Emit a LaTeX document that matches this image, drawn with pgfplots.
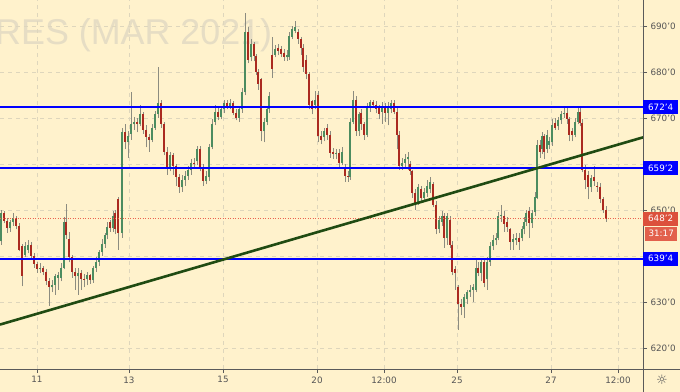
\documentclass[border=0pt]{standalone}
\usepackage{fontspec}
\setmainfont{DejaVu Sans}
\newfontfamily\wmfont{Liberation Sans}
\usepackage{pgfplots}
\usepackage{pgfplotstable}
\pgfplotsset{compat=1.18}
\definecolor{bg}{RGB}{255,242,204}
\definecolor{gridc}{RGB}{222,214,188}
\definecolor{upc}{RGB}{76,140,96}
\definecolor{dnc}{RGB}{170,42,32}
\definecolor{wickc}{RGB}{140,140,128}
\definecolor{bluec}{RGB}{0,0,255}
\definecolor{trendc}{RGB}{32,75,18}
\definecolor{redl}{RGB}{235,100,80}
\definecolor{boxred}{RGB}{220,80,60}
\definecolor{boxred2}{RGB}{226,96,76}
\definecolor{axisc}{RGB}{90,90,90}
\definecolor{txtc}{RGB}{85,85,85}
\definecolor{wmc}{RGB}{230,221,196}
\pgfplotstableread{
x o h l c
1 643.3 650.0 642.6 649.4
4 649.4 649.8 647.2 647.8
7 647.8 648.3 645.2 646.1
10 646.1 648.0 645.4 647.6
13 647.6 649.4 646.7 648.3
16 648.3 648.7 645.9 646.7
19 646.7 647.2 641.1 641.5
22 642.2 642.8 633.5 635.7
25 640.4 643.1 639.8 642.2
28 641.5 643.5 640.7 642.6
31 642.6 643.1 639.4 640.0
34 640.0 640.7 637.6 638.3
37 638.3 638.9 636.5 637.2
40 637.2 638.5 636.5 637.6
43 637.6 638.0 635.9 636.7
46 636.7 637.2 633.7 634.6
49 634.6 635.4 629.3 633.3
52 633.3 634.8 632.2 633.9
55 633.9 636.3 631.7 635.7
58 635.4 636.7 632.8 635.9
61 635.4 638.5 634.6 637.6
64 637.6 648.5 637.2 647.6
66 647.6 651.5 643.7 644.6
69 643.7 645.4 638.7 639.8
72 639.8 640.4 635.4 636.7
75 636.7 637.6 632.8 635.7
78 635.7 637.6 631.7 636.5
81 636.5 637.0 632.8 635.2
84 635.2 636.1 633.3 635.0
87 635.0 636.7 633.7 635.9
90 635.9 636.3 634.1 634.8
93 634.8 638.0 634.3 637.6
96 637.6 639.8 636.7 638.9
99 638.9 641.5 638.0 640.9
102 640.9 643.7 640.2 642.8
105 642.8 645.2 641.9 644.6
107 644.6 647.4 643.7 646.5
110 647.4 648.0 645.4 646.3
113 646.3 649.8 645.4 648.9
115 649.4 650.2 644.8 645.9
118 652.4 653.0 641.5 645.2
122 645.2 668.0 644.1 667.0
125 667.0 668.7 663.3 664.8
128 664.8 667.2 661.5 666.3
131 666.7 675.7 665.4 668.7
134 668.7 670.4 667.6 669.3
137 669.3 670.2 667.0 668.7
140 668.7 673.0 668.3 670.9
143 670.9 671.5 666.7 667.6
146 667.6 668.5 663.7 665.9
149 665.9 666.7 662.8 665.4
152 665.4 668.9 664.8 668.0
155 668.0 671.7 667.6 670.9
158 670.9 681.1 670.2 673.3
161 673.3 674.1 668.0 668.7
164 668.7 669.3 662.0 662.8
167 662.8 663.7 657.8 659.3
170 659.3 662.8 658.5 662.0
173 662.0 662.6 657.8 659.6
176 659.6 660.2 655.4 657.2
179 657.2 658.0 653.9 655.0
182 655.0 657.8 654.1 656.7
185 656.7 658.5 655.4 657.6
188 657.6 659.6 656.7 658.7
191 658.7 661.1 657.8 660.4
194 660.4 661.5 659.1 660.0
197 660.7 664.1 659.8 663.3
200 663.3 664.1 658.5 659.3
203 659.3 660.0 655.4 656.5
206 656.5 658.5 655.7 657.4
209 657.2 664.4 656.5 663.7
212 663.7 669.8 663.3 668.7
215 669.3 673.0 668.5 671.5
218 671.5 672.4 669.6 670.4
221 670.4 672.8 669.8 672.0
224 672.0 674.1 671.1 673.3
227 673.3 674.1 672.0 672.8
230 672.8 674.3 672.0 673.3
233 673.3 673.9 670.7 671.3
236 671.3 672.0 669.6 670.2
239 670.2 672.8 669.3 672.0
242 672.0 676.7 671.3 675.7
245 675.7 693.0 675.0 688.9
248 688.9 689.8 682.0 682.8
251 683.3 687.2 682.4 686.1
254 686.1 686.7 682.4 683.5
256 683.5 684.1 679.4 680.2
258 680.2 680.7 676.3 677.4
261 678.5 678.9 665.0 667.2
264 667.2 670.2 664.8 669.3
267 669.3 672.8 668.5 672.0
269 672.0 675.7 671.3 674.8
272 683.9 687.8 678.9 680.7
275 683.9 685.9 683.3 685.0
278 685.4 686.1 683.7 684.6
281 685.0 685.7 683.3 684.1
284 684.3 685.0 682.6 683.3
287 683.3 684.8 682.6 683.9
289 683.3 688.7 682.8 688.0
292 687.8 690.2 687.2 689.4
295 689.1 691.1 688.5 689.8
298 688.7 689.4 686.3 687.2
301 687.2 687.8 683.9 685.4
303 685.4 686.1 680.2 681.3
306 682.8 683.7 678.5 679.6
309 679.6 680.2 672.0 673.0
312 673.7 674.1 670.9 672.0
315 673.0 675.9 672.0 674.1
318 675.0 675.9 664.8 666.1
321 666.1 667.2 664.4 665.4
324 665.9 668.0 665.0 667.2
327 668.0 668.7 665.4 666.5
330 666.5 667.2 661.5 662.6
333 662.8 663.5 661.1 662.2
336 662.2 663.3 661.1 662.6
339 662.6 663.3 659.3 660.4
342 660.4 663.7 659.8 662.8
345 659.3 660.0 656.3 657.4
348 657.4 658.5 656.3 657.2
350 657.2 670.2 656.7 669.3
353 669.3 675.9 668.7 674.1
356 674.1 674.8 666.3 667.2
359 667.2 671.5 666.3 670.9
361 671.3 672.0 667.6 668.7
364 668.7 669.3 665.4 666.5
367 666.5 673.3 665.9 672.4
370 672.4 674.1 671.5 673.5
373 673.5 674.1 672.2 673.0
376 673.0 673.7 671.1 672.0
379 672.4 673.0 669.8 670.9
382 671.5 673.5 668.9 672.6
385 672.4 673.3 669.3 671.3
388 671.3 673.5 668.5 672.6
391 672.0 674.1 671.3 673.3
394 673.3 674.1 670.9 671.5
397 671.5 672.2 663.3 666.5
399 666.5 667.2 658.9 659.6
402 659.6 661.5 658.9 660.4
405 660.4 662.2 659.3 661.3
408 661.1 662.8 658.9 661.7
410 660.0 660.7 657.8 658.5
412 658.5 658.9 652.8 653.9
415 653.9 654.6 650.2 651.3
418 651.7 655.7 651.1 655.0
421 654.6 655.4 652.0 652.8
424 652.8 654.8 652.0 654.1
427 653.9 656.7 653.0 655.4
430 654.6 657.2 653.7 656.1
433 655.7 656.3 650.7 651.3
436 651.3 652.0 644.8 645.9
439 645.9 648.9 645.0 648.0
442 647.6 649.8 646.7 648.9
444 648.7 649.4 641.9 644.1
447 644.1 649.4 642.6 648.7
450 648.0 648.7 641.9 642.6
452 642.6 643.3 635.9 636.7
455 637.2 638.0 632.8 636.5
458 633.3 633.9 624.1 629.6
461 629.6 630.7 627.2 629.1
464 629.1 631.8 626.7 631.1
467 630.7 632.8 629.6 632.2
470 632.2 633.7 631.3 632.8
473 632.8 634.1 630.0 633.3
476 632.8 639.4 632.2 637.6
478 637.6 638.9 635.7 636.5
481 636.5 639.4 634.6 638.7
484 638.7 639.4 633.3 634.3
487 635.0 639.8 632.8 638.9
490 638.9 643.1 638.0 642.2
493 642.2 644.6 641.5 643.5
496 643.5 645.2 642.4 644.1
498 644.1 649.6 643.5 648.7
501 648.7 651.3 647.6 649.1
504 648.9 649.8 645.4 647.0
507 647.6 648.5 645.4 646.5
510 645.9 646.3 641.5 643.1
513 643.1 644.8 641.5 643.7
516 643.5 645.2 642.4 644.1
519 644.1 645.0 641.5 643.1
522 644.1 646.7 643.3 645.9
524 645.9 648.5 644.8 647.6
526 647.6 650.2 646.7 649.4
529 649.8 650.7 644.1 647.2
532 647.2 650.2 646.3 649.4
535 649.6 654.1 648.9 653.0
537 652.8 665.4 652.4 664.3
540 664.3 665.4 661.5 662.8
542 663.3 667.0 662.2 666.1
544 666.1 666.7 661.1 662.8
547 663.3 667.6 662.6 666.5
549 664.3 665.9 663.3 665.0
552 664.8 669.8 664.1 668.5
555 669.1 670.2 667.6 668.0
558 668.3 670.4 667.6 669.6
561 669.6 671.7 668.9 670.9
564 670.9 672.4 670.2 671.3
567 671.3 672.2 668.9 669.8
569 669.8 670.4 665.0 666.5
572 667.2 668.0 665.0 666.5
575 666.5 670.2 665.9 669.3
578 669.3 672.8 668.7 671.5
580 671.5 672.8 668.3 669.1
582 669.1 669.8 658.3 658.9
585 658.9 659.8 654.6 656.7
588 657.8 658.5 652.4 655.0
591 655.0 657.8 654.1 657.0
594 657.2 659.6 655.4 656.5
597 655.4 656.1 654.1 655.0
600 655.2 655.9 651.7 652.4
603 652.4 653.0 649.4 650.2
606 650.2 650.9 647.6 648.25
}\candles
\begin{document}
\begin{tikzpicture}
\path[use as bounding box] (0,0) rectangle (680bp,392bp);
\fill[bg] (0,0) rectangle (680bp,392bp);
\node[anchor=base west, inner sep=0pt, text=wmc, font=\wmfont\fontsize{36}{36}\selectfont] at (-5bp,347bp) {RES (MAR 2021)};
\begin{axis}[
  at={(0bp,23bp)}, anchor=south west,
  width=643bp, height=369bp, scale only axis,
  xmin=0, xmax=643, ymin=615.54, ymax=695.76,
  axis x line*=bottom, axis y line*=right,
  axis line style={-, draw=axisc, line width=0.8bp},
  tick align=outside, major tick length=4bp,
  tick style={draw=axisc, line width=0.6bp},
  xtick={37,129,223,317,384,457,551,618},
  xticklabels={11,13,15,20,12:00,25,27,12:00},
  ytick={620,630,640,650,660,670,680,690},
  yticklabels={620'0,630'0,,650'0,,670'0,680'0,690'0},
  ticklabel style={font=\fontsize{8.8}{10}\selectfont, text=txtc},
  grid=major,
  major grid style={draw=gridc, dash pattern=on 4bp off 4bp, line width=0.6bp},
  clip=true,
]
% wicks
\addplot[draw=none, no markers, forget plot,
  error bars/.cd, y dir=plus, y explicit, error mark=none,
  error bar style={draw=wickc, line width=0.8bp}]
  table[x=x, y=l, y error plus expr={\thisrow{h}-\thisrow{l}}] {\candles};
% up bodies
\addplot[draw=none, no markers, forget plot,
  error bars/.cd, y dir=plus, y explicit, error mark=none,
  error bar style={draw=upc, line width=2.4bp}]
  table[x=x, y=o, y error plus expr={max(\thisrow{c}-\thisrow{o},0)}] {\candles};
% down bodies
\addplot[draw=none, no markers, forget plot,
  error bars/.cd, y dir=minus, y explicit, error mark=none,
  error bar style={draw=dnc, line width=2.4bp}]
  table[x=x, y=o, y error minus expr={max(\thisrow{o}-\thisrow{c},0)}] {\candles};
% last price line
\addplot[redl, no markers, line width=1bp, dash pattern=on 1bp off 1.5bp] coordinates {(0,648.25) (643,648.25)};
% horizontal levels
\addplot[bluec, no markers, line width=2bp] coordinates {(0,672.5) (643,672.5)};
\addplot[bluec, no markers, line width=2bp] coordinates {(0,659.25) (643,659.25)};
\addplot[bluec, no markers, line width=2bp] coordinates {(0,639.5) (643,639.5)};
% trend line
\addplot[trendc, no markers, line width=2.6bp] coordinates {(0,625.2) (643,665.9)};
\coordinate (L1) at (axis cs:643,672.5);
\coordinate (L2) at (axis cs:643,659.25);
\coordinate (L3) at (axis cs:643,639.5);
\coordinate (L4) at (axis cs:643,648.25);
\end{axis}
\draw[axisc, line width=0.8bp] (643bp,0bp) -- (643bp,392bp);
\draw[axisc, line width=0.8bp] (0bp,23bp) -- (680bp,23bp);
\tikzset{lab/.style={anchor=west, text=white, inner sep=1bp, minimum width=35bp, minimum height=14bp, font=\fontsize{8.8}{10}\selectfont}}
\node[lab, fill=bluec] at (L1) {672'4};
\node[lab, fill=bluec] at (L2) {659'2};
\node[lab, fill=bluec] at (L3) {639'4};
\node[lab, fill=boxred] at (L4) {648'2};
\node[lab, fill=boxred2, minimum width=32bp, xshift=2bp] at ([yshift=-15bp]L4) {31:17};
\node[text=axisc, font=\fontsize{13}{13}\selectfont] at (662bp,12bp) {☼};
\end{tikzpicture}
\end{document}
